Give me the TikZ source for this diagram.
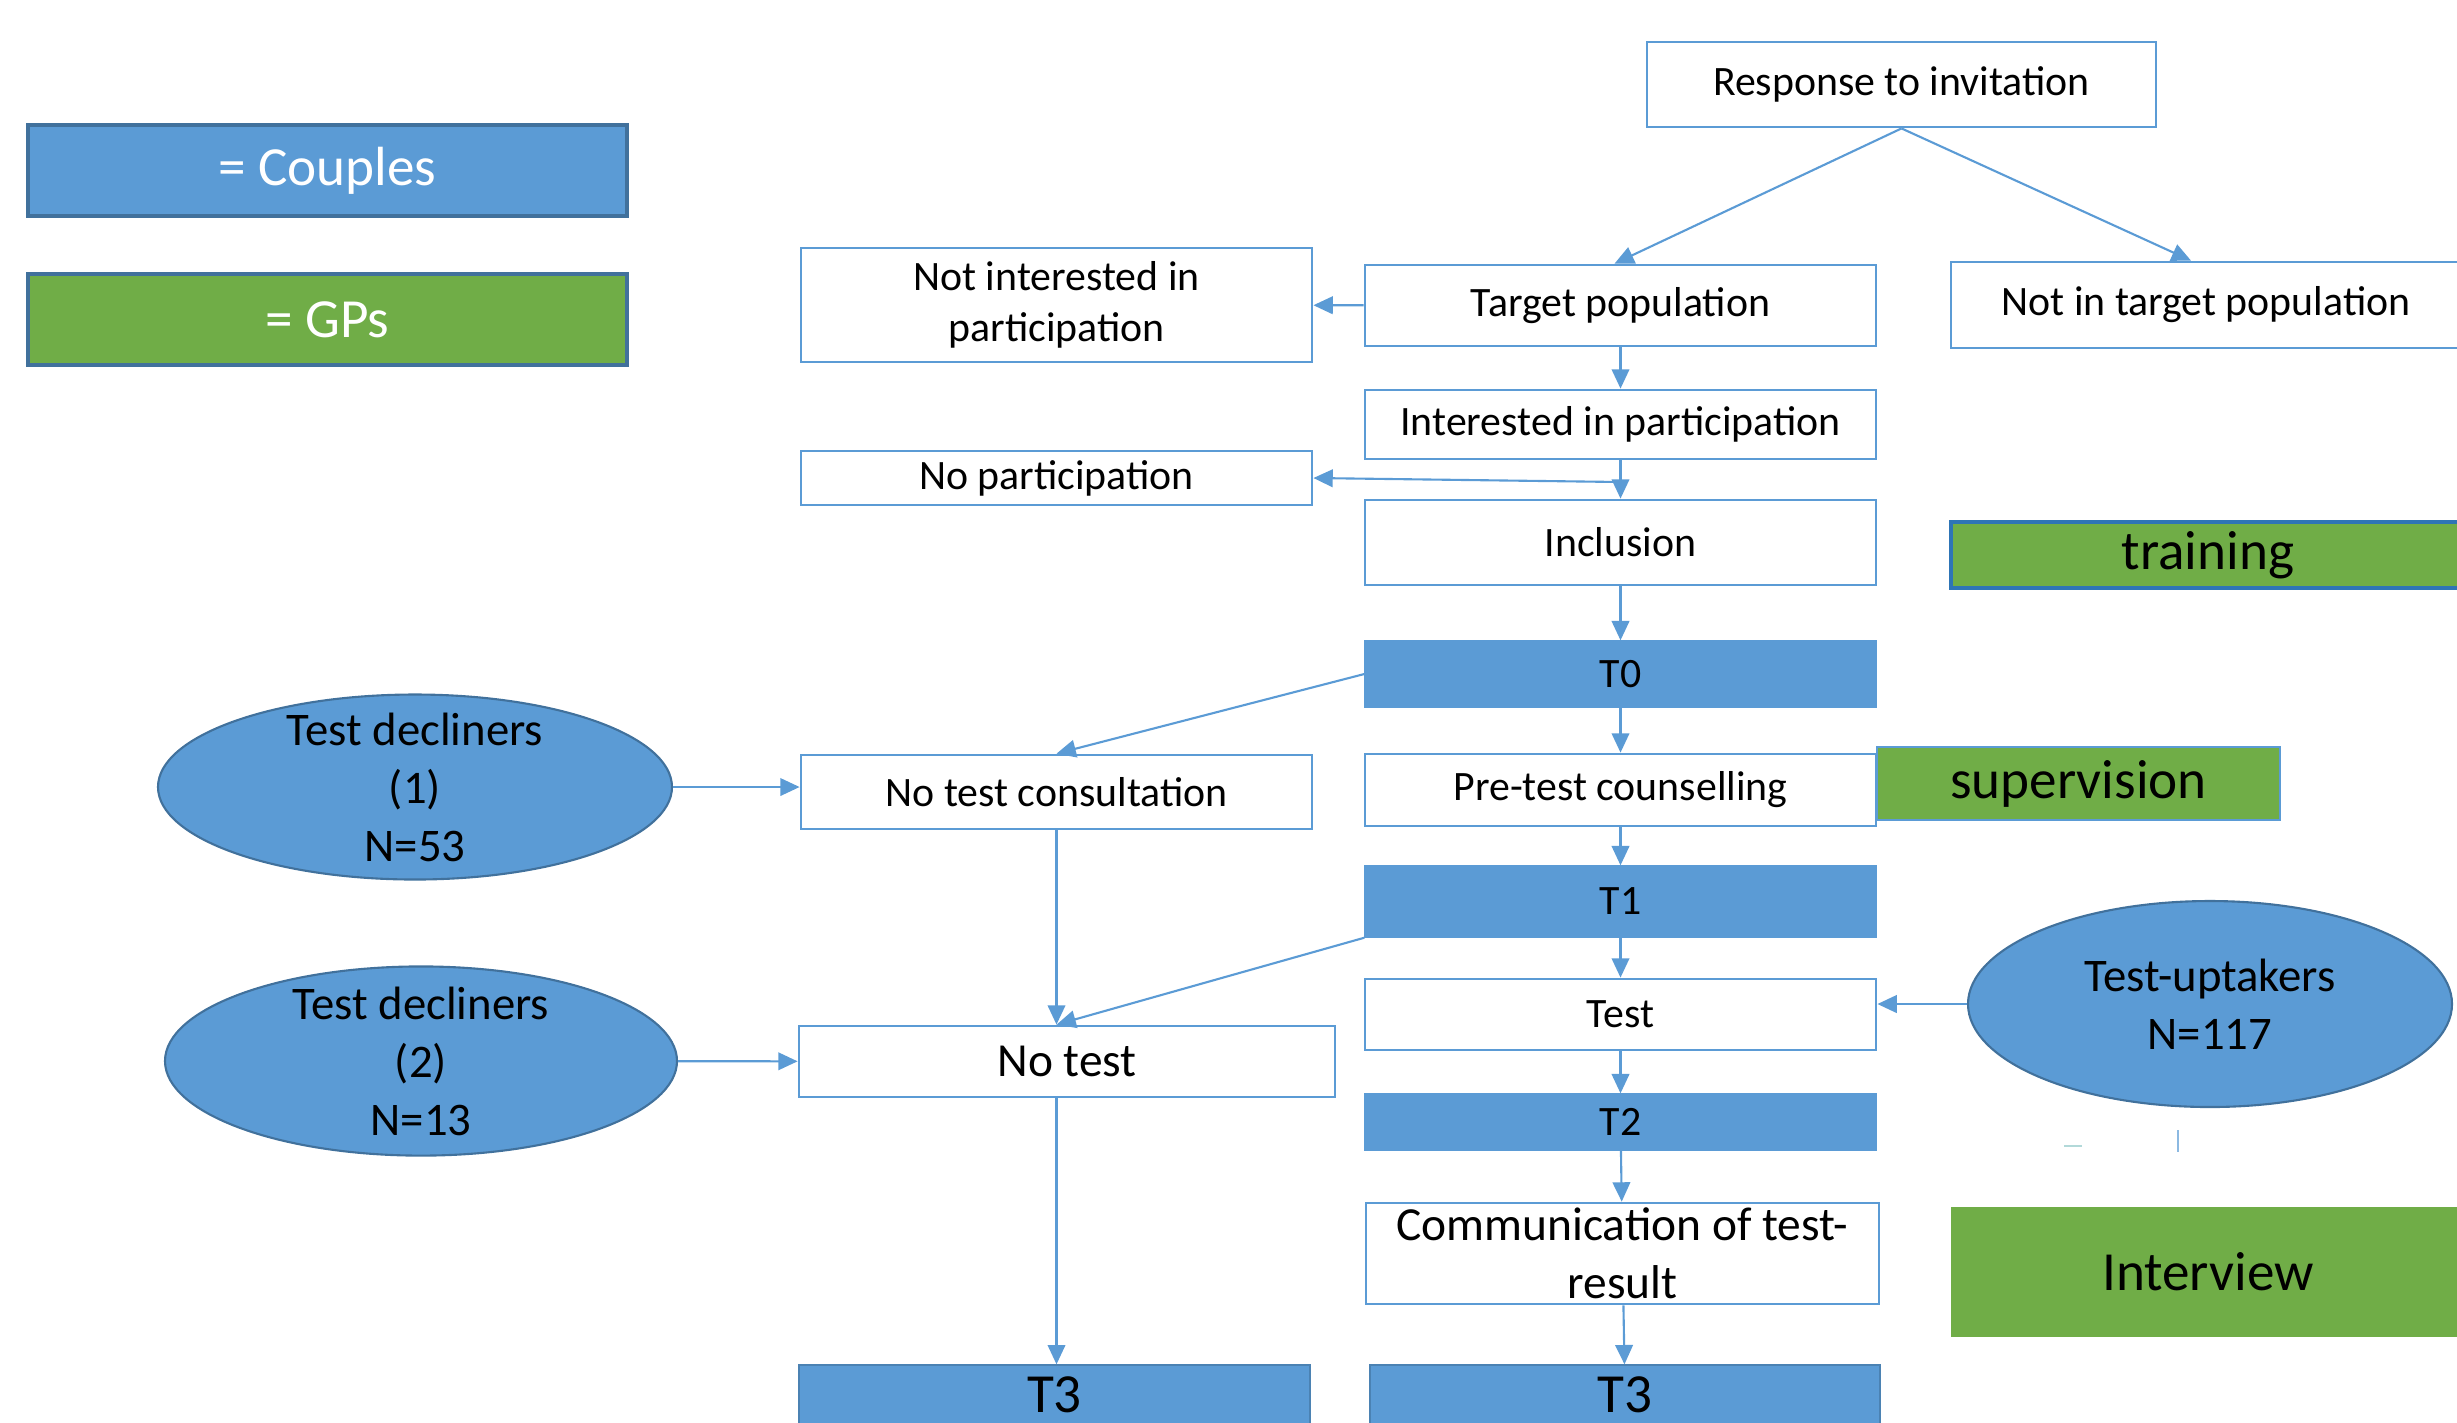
\documentclass[tikz,border=0pt]{standalone}
\usepackage{fontspec}
\setmainfont{Carlito}
\usepackage{tikz}
\usetikzlibrary{arrows.meta,positioning,shapes.geometric}
\definecolor{offBlue}{HTML}{5B9BD5}
\definecolor{darkBlue}{HTML}{41719C}
\definecolor{brightBlue}{HTML}{2E75B6}
\definecolor{offGreen}{HTML}{70AD47}

\begin{document}
\begin{tikzpicture}[
  stage/.style={draw=offBlue,line width=0.8pt,fill=white,align=center,inner sep=1pt,minimum width=5.11cm,font=\fontsize{11.9}{14.4}\selectfont},
  tpoint/.style={draw=offBlue,fill=offBlue,inner sep=1pt,minimum width=5.11cm,font=\fontsize{11.9}{14.4}\selectfont},
  group/.style={ellipse,draw=darkBlue,line width=0.6pt,fill=offBlue,align=center,inner sep=0pt,font=\fontsize{13.3}{16.5}\selectfont},
  legend/.style={draw=darkBlue,line width=1pt,minimum width=5.99cm,minimum height=0.91cm,text=white,font=\fontsize{15.7}{18}\selectfont},
  gpbox/.style={fill=offGreen,inner sep=1pt,font=\fontsize{15.7}{18}\selectfont},
  arrow/.style={-{Triangle[length=5.5pt,width=5pt]},line width=0.6pt,draw=offBlue}
]
\useasboundingbox (0,0) rectangle (24.57,-14.22);

\node[legend,fill=offBlue] (couples) at (3.275,-1.705) {= Couples};
\node[legend,fill=offGreen] (gps) at (3.275,-3.195) {= GPs};

\node[stage,minimum width=5.09cm,minimum height=0.85cm] (resp) at (19.015,-0.845) {Response to invitation};
\node[stage,minimum height=0.81cm] (target) at (16.205,-3.055) {Target population};
\node[stage,minimum width=5.1cm,minimum height=0.86cm] (notarget) at (22.06,-3.05) {Not in target population};
\node[stage,minimum height=1.14cm] (notint) at (10.565,-3.05) {Not interested in\\participation};
\node[stage,minimum height=0.69cm] (interested) at (16.205,-4.245) {Interested in participation};
\node[stage,minimum height=0.54cm] (nopart) at (10.565,-4.78) {No participation};
\node[stage,minimum height=0.85cm] (inclusion) at (16.205,-5.425) {Inclusion};
\node[tpoint,minimum height=0.66cm] (t0) at (16.205,-6.74) {T0};
\node[stage,minimum height=0.72cm] (pretest) at (16.205,-7.9) {Pre-test counselling};
\node[stage,minimum height=0.74cm] (ntc) at (10.565,-7.92) {No test consultation};
\node[tpoint,minimum height=0.71cm] (t1) at (16.205,-9.015) {T1};
\node[stage,minimum height=0.71cm] (test) at (16.205,-10.145) {Test};
\node[stage,minimum width=5.36cm,minimum height=0.71cm,font=\fontsize{13.5}{16}\selectfont] (notest) at (10.67,-10.615) {No test};
\node[tpoint,minimum height=0.56cm] (t2) at (16.205,-11.22) {T2};
\node[stage,minimum width=5.13cm,minimum height=1.01cm,font=\fontsize{13.5}{16.5}\selectfont] (comm) at (16.225,-12.535) {Communication of test-\\result};
\node[tpoint,draw=darkBlue!60!offBlue,minimum height=0.6cm,font=\fontsize{15.7}{18}\selectfont] (t3a) at (10.545,-13.95) {T3};
\node[tpoint,draw=darkBlue!60!offBlue,minimum width=5.1cm,minimum height=0.6cm,font=\fontsize{15.7}{18}\selectfont] (t3b) at (16.25,-13.95) {T3};

\node[gpbox,draw=brightBlue,line width=0.9pt,minimum width=5.14cm,minimum height=0.66cm] (training) at (22.08,-5.55) {training};
\node[gpbox,draw=offBlue,line width=0.8pt,minimum width=4.03cm,minimum height=0.73cm] (supervision) at (20.785,-7.835) {supervision};
\node[gpbox,minimum width=5.14cm,minimum height=1.3cm] (interview) at (22.08,-12.72) {Interview};

\node[group,inner ysep=-0.09cm,minimum width=5.14cm,minimum height=1.85cm] (decl1) at (4.15,-7.87) {Test decliners\\(1)\\N=53};
\node[group,inner ysep=-0.075cm,minimum width=5.12cm,minimum height=1.89cm] (decl2) at (4.21,-10.61) {Test decliners\\(2)\\N=13};
\node[group,minimum width=4.84cm,minimum height=2.06cm] (uptakers) at (22.1,-10.04) {Test-uptakers\\N=117};

\coordinate (split) at (16.205,-4.82);
\coordinate (ntin) at (ntc.south |- notest.north);

\draw[arrow] (resp.south) -- ([xshift=-0.06cm]target.north);
\draw[arrow] (resp.south) -- ([xshift=-0.15cm]notarget.north);
\draw[arrow] (target) -- (notint);
\draw[arrow] (target) -- (interested);
\draw[arrow] (interested) -- (inclusion);
\draw[arrow] (split) -- (nopart.east);
\draw[arrow] (inclusion) -- (t0);
\draw[arrow] (t0.west) -- (ntc.north);
\draw[arrow] (t0) -- (pretest);
\draw[arrow] (pretest) -- (t1);
\draw[arrow] (t1) -- (test);
\draw[arrow] (t1.south west) -- (ntin);
\draw[arrow] (ntc.south) -- (ntin);
\draw[arrow] (ntc.south |- notest.south) -- (ntc.south |- t3a.north);
\draw[arrow] (test) -- (t2);
\draw[arrow] (t2) -- (comm);
\draw[arrow] (comm) -- (t3b);
\draw[arrow] (decl1.east) -- (decl1.east -| ntc.west);
\draw[arrow] (decl2) -- (notest);
\draw[arrow] (uptakers.west) -- (uptakers.west -| test.east);

\draw[teal!30,line width=0.8pt] (20.64,-11.46) -- (20.82,-11.46);
\draw[offBlue!70,line width=0.8pt] (21.78,-11.30) -- (21.78,-11.52);
\end{tikzpicture}
\end{document}
